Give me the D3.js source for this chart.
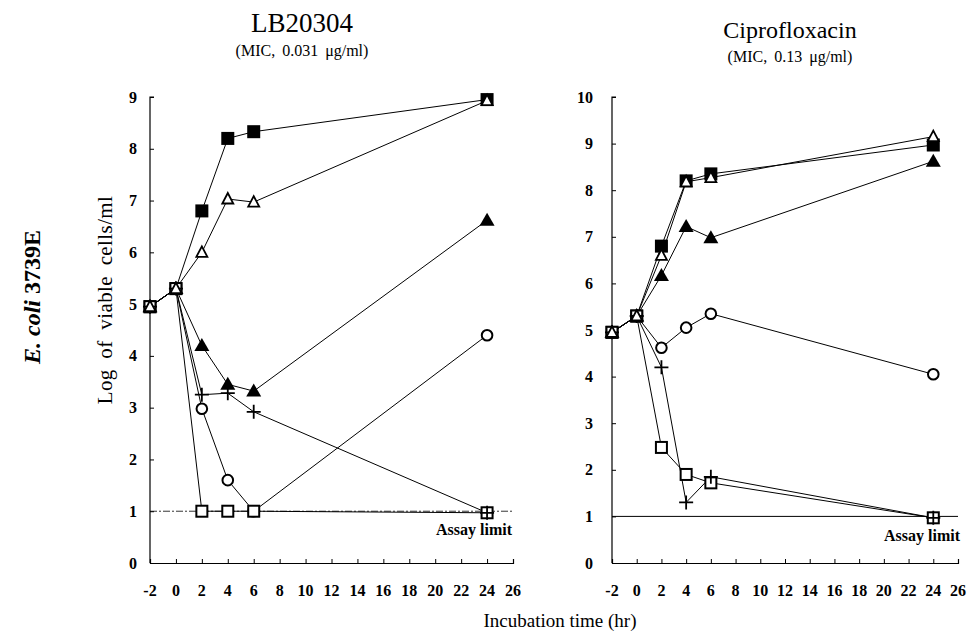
<!DOCTYPE html>
<html><head><meta charset="utf-8">
<script src="https://cdn.jsdelivr.net/npm/d3@7"></script>
<style>body{margin:0;background:#fff}svg{display:block}text{font-family:"Liberation Serif","Times New Roman",serif;fill:#000}</style>
</head><body>
<svg id="c" width="973" height="636"></svg>
<script>
// ---- data ----
const times = [-2, 0, 2, 4, 6, 24];
const xTicks = [-2,0,2,4,6,8,10,12,14,16,18,20,22,24,26];
const yTicksLeft = [0,1,2,3,4,5,6,7,8,9];
const yTicksRight = [0,1,2,3,4,5,6,7,8,9,10];
// LB20304 panel
const lbControl        = [4.95, 5.3, 6.8, 8.2, 8.33, 8.95];
const lbOpenTriangle   = [4.95, 5.3, 6.0, 7.03, 6.97, 8.93];
const lbFilledTriangle = [4.95, 5.3, 4.2, 3.45, 3.32, 6.62];
const lbPlus           = [4.95, 5.3, 3.25, 3.28, 2.92, 0.97];
const lbCircle         = [4.95, 5.3, 2.98, 1.6, 1.0, 4.4];
const lbOpenSquare     = [4.95, 5.3, 1.0, 1.0, 1.0, 0.97];
// Ciprofloxacin panel
const ciControl        = [4.95, 5.3, 6.8, 8.2, 8.35, 8.97];
const ciOpenTriangle   = [4.95, 5.3, 6.6, 8.18, 8.27, 9.15];
const ciFilledTriangle = [4.95, 5.3, 6.17, 7.22, 6.98, 8.62];
const ciCircle         = [4.95, 5.3, 4.62, 5.05, 5.35, 4.05];
const ciPlus           = [4.95, 5.3, 4.2, 1.3, 1.85, 0.97];
const ciOpenSquare     = [4.95, 5.3, 2.48, 1.9, 1.72, 0.97];
const assayLimit = 1;

const svg = d3.select("#c");

function panel(cfg){
  const x = d3.scaleLinear().domain([-2,26]).range([cfg.x0, cfg.x1]);
  const y = d3.scaleLinear().domain([0,cfg.ymax]).range([563, 97]);
  const g = svg.append("g");
  const xa = g.append("g").attr("transform",`translate(0,${y(0)})`)
    .call(d3.axisTop(x).tickValues(xTicks).tickSize(4).tickFormat(""));
  xa.select(".domain").attr("stroke","#000").attr("stroke-width",1.2);
  xa.selectAll("line").attr("stroke","#000");
  g.selectAll(".xl").data(xTicks).join("text")
    .attr("x",d=>x(d)).attr("y",y(0)+33).attr("text-anchor","middle")
    .attr("font-size",16).attr("font-weight","bold").text(d=>d);
  const ya = g.append("g").attr("transform",`translate(${x(-2)},0)`)
    .call(d3.axisRight(y).tickValues(cfg.yTicks).tickSize(4).tickFormat(""));
  ya.select(".domain").attr("stroke","#000").attr("stroke-width",1.2).attr("d",`M4,${y(cfg.ymax)}H0V${y(0)}`);
  ya.selectAll("line").attr("stroke","#000");
  g.selectAll(".yl").data(cfg.yTicks).join("text")
    .attr("x",x(-2)-cfg.ylOff).attr("y",d=>y(d)+5.5).attr("text-anchor","end")
    .attr("font-size",16).attr("font-weight","bold").text(d=>d);
  g.append("line").attr("x1",x(-2)).attr("x2",x(26)).attr("y1",y(assayLimit)).attr("y2",y(assayLimit))
    .attr("stroke","#000").attr("stroke-width",cfg.dashed?0.8:1).attr("stroke-dasharray",cfg.dashed?"7,2,2,2":null);
  g.append("text").attr("x",cfg.alx).attr("y",cfg.aly).attr("text-anchor","end")
    .attr("font-size",16).attr("font-weight","bold").text("Assay limit");
  g.append("text").attr("x",cfg.tx).attr("y",cfg.ty).attr("text-anchor","middle").attr("font-size",cfg.tfs).text(cfg.title);
  g.append("text").attr("x",cfg.tx).attr("y",cfg.ty+24).attr("text-anchor","middle").attr("font-size",16)
    .attr("word-spacing",3).text(cfg.sub);

  const line = d3.line().x((d,i)=>x(times[i])).y(d=>y(d));
  cfg.series.forEach(s=>{
    g.append("path").attr("d",line(s.vals)).attr("fill","none").attr("stroke","#000").attr("stroke-width",1);
  });
  cfg.series.forEach(s=>{
    const pts = s.vals.map((v,i)=>[x(times[i]),y(v)]);
    const mg = g.append("g");
    pts.forEach(([px,py])=>{
      if(s.type==="filledSquare"){
        mg.append("rect").attr("x",px-6.5).attr("y",py-6.5).attr("width",13).attr("height",13).attr("fill","#000");
      } else if(s.type==="openSquare"){
        mg.append("rect").attr("x",px-5.5).attr("y",py-5.5).attr("width",11).attr("height",11).attr("fill","#fff").attr("stroke","#000").attr("stroke-width",2);
      } else if(s.type==="circle"){
        mg.append("circle").attr("cx",px).attr("cy",py).attr("r",5.3).attr("fill","#fff").attr("stroke","#000").attr("stroke-width",2);
      } else if(s.type==="filledTriangle"){
        mg.append("path").attr("d",`M${px},${py-7.5}L${px+7.5},${py+5.5}L${px-7.5},${py+5.5}Z`).attr("fill","#000");
      } else if(s.type==="openTriangle"){
        mg.append("path").attr("d",`M${px},${py-6}L${px+5.5},${py+4.5}L${px-5.5},${py+4.5}Z`).attr("fill","#fff").attr("stroke","#000").attr("stroke-width",1.8);
      } else if(s.type==="plus"){
        mg.append("path").attr("d",`M${px-7},${py}H${px+7}M${px},${py-7}V${py+7}`).attr("stroke","#000").attr("stroke-width",1.8);
      }
    });
  });
}

panel({x0:150, x1:513, ymax:9, yTicks:yTicksLeft, ylOff:13, dashed:true, title:"LB20304", sub:"(MIC,  0.031 \u03bcg/ml)", tx:302, ty:32, tfs:27,
  alx:512, aly:535,
  series:[
    {type:"filledSquare", vals:lbControl},
    {type:"filledTriangle", vals:lbFilledTriangle},
    {type:"circle", vals:lbCircle},
    {type:"openSquare", vals:lbOpenSquare},
    {type:"plus", vals:lbPlus},
    {type:"openTriangle", vals:lbOpenTriangle}
  ]});
panel({x0:612, x1:958, ymax:10, yTicks:yTicksRight, ylOff:19, dashed:false, title:"Ciprofloxacin", sub:"(MIC,  0.13 \u03bcg/ml)", tx:790, ty:38, tfs:24,
  alx:960, aly:541,
  series:[
    {type:"filledSquare", vals:ciControl},
    {type:"filledTriangle", vals:ciFilledTriangle},
    {type:"circle", vals:ciCircle},
    {type:"openSquare", vals:ciOpenSquare},
    {type:"plus", vals:ciPlus},
    {type:"openTriangle", vals:ciOpenTriangle}
  ]});

svg.append("text").attr("transform","translate(112,300) rotate(-90)").attr("text-anchor","middle")
  .attr("font-size",21).attr("letter-spacing",0.4).attr("word-spacing",5).text("Log of viable cells/ml");
const ec = svg.append("text").attr("transform","translate(40,297) rotate(-90)").attr("text-anchor","middle")
  .attr("font-size",24).attr("font-weight","bold");
ec.append("tspan").attr("font-style","italic").text("E. coli");
ec.append("tspan").text(" 3739E");
svg.append("text").attr("x",560).attr("y",627).attr("text-anchor","middle").attr("font-size",19).text("Incubation time (hr)");
</script>
</body></html>
